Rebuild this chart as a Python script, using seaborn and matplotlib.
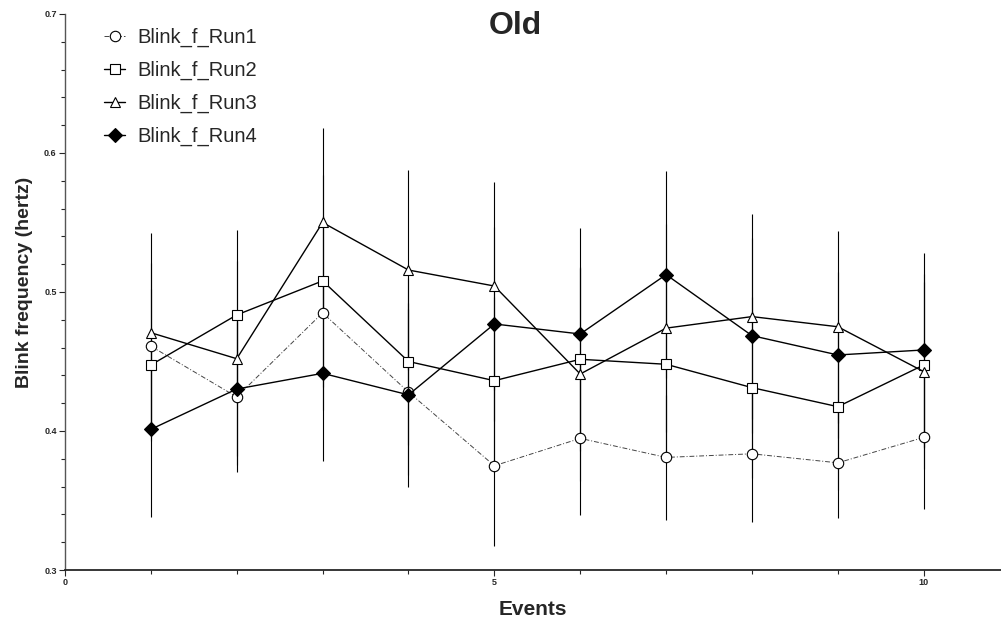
import numpy as np
import pandas as pd
import seaborn as sns
import matplotlib.pyplot as plt
from matplotlib.ticker import MultipleLocator

# values
events = [1, 2, 3, 4, 5, 6, 7, 8, 9, 10]
run1 = [0.461, 0.4245, 0.485, 0.428, 0.375, 0.3947, 0.381, 0.3836, 0.3771, 0.3954]
run2 = [0.4475, 0.4835, 0.508, 0.450, 0.4362, 0.4516, 0.448, 0.4312, 0.4175, 0.4475]
run3 = [0.4707, 0.452, 0.550, 0.5158, 0.5043, 0.441, 0.474, 0.4823, 0.475, 0.4427]
run4 = [0.4012, 0.4302, 0.4415, 0.426, 0.477, 0.4698, 0.5125, 0.4686, 0.4547, 0.4583]

# error bar half-lengths
err1 = [0.060, 0.054, 0.070, 0.060, 0.058, 0.055, 0.045, 0.049, 0.040, 0.0515]
err2 = [0.055, 0.061, 0.076, 0.060, 0.060, 0.066, 0.070, 0.065, 0.060, 0.060]
err3 = [0.072, 0.070, 0.068, 0.072, 0.075, 0.077, 0.075, 0.074, 0.069, 0.070]
err4 = [0.063, 0.055, 0.063, 0.066, 0.070, 0.076, 0.0745, 0.070, 0.060, 0.070]

labels = ["Blink_f_Run1", "Blink_f_Run2", "Blink_f_Run3", "Blink_f_Run4"]

sns.set_style("ticks")
plt.rcParams['font.family'] = ['Liberation Sans', 'DejaVu Sans']

fig = plt.figure(figsize=(10.01, 6.24), dpi=100)
ax = fig.add_axes([65 / 1001, 54 / 624, 936 / 1001, 556 / 624])

series = [
    (run1, err1, 'o', 'white', (0, (5, 2, 1, 2)), 0.7, '#444444'),
    (run2, err2, 's', 'white', '-', 1.0, 'black'),
    (run3, err3, '^', 'white', '-', 1.0, 'black'),
    (run4, err4, 'D', 'black', '-', 1.0, 'black'),
]

# error bars first so the markers sit on top
for vals, errs, *_ in series:
    ax.errorbar(events, vals, yerr=errs, fmt='none', ecolor='black',
                elinewidth=0.8, capsize=0, zorder=1)

for (vals, errs, mk, fc, ls, lw, col), lab in zip(series, labels):
    df = pd.DataFrame({'event': events, 'freq': vals})
    sns.lineplot(data=df, x='event', y='freq', ax=ax, color=col,
                 linestyle=ls, linewidth=lw, marker=mk,
                 markersize=7.5 if mk != 'D' else 6.8,
                 markerfacecolor=fc, markeredgecolor='black',
                 markeredgewidth=0.8, label=lab, zorder=3)

ax.set_xlim(0, 10.9)
ax.set_ylim(0.3, 0.7)
ax.xaxis.set_major_locator(MultipleLocator(5))
ax.xaxis.set_minor_locator(MultipleLocator(1))
ax.yaxis.set_major_locator(MultipleLocator(0.1))
ax.yaxis.set_minor_locator(MultipleLocator(0.02))
ax.yaxis.set_major_formatter(plt.FuncFormatter(lambda v, p: f"{v:.1f}"))
ax.tick_params(which='major', length=4, width=0.8, labelsize=6.5, pad=2)
ax.tick_params(which='minor', length=3, width=0.8)
for t in ax.get_xticklabels() + ax.get_yticklabels():
    t.set_fontweight('bold')

sns.despine(ax=ax)
ax.spines['left'].set_linewidth(1.0)
ax.spines['left'].set_color('#555555')
ax.spines['bottom'].set_linewidth(1.3)

ax.set_xlabel('Events', fontsize=15, fontweight='bold', labelpad=9)
ax.set_ylabel('Blink frequency (hertz)', fontsize=14, fontweight='bold')
ax.yaxis.set_label_coords(-0.034, 0.518)

ax.legend(loc='upper left', bbox_to_anchor=(96 / 1001, 1 - 20 / 624),
          bbox_transform=fig.transFigure, frameon=False, fontsize=14.5,
          handlelength=1.05, handletextpad=0.6, labelspacing=0.68,
          borderaxespad=0)

fig.text(515 / 1001, 1 - 26 / 624, 'Old', ha='center', va='center',
         fontsize=23, fontweight='bold')

fig.savefig('out.png', dpi=100)
